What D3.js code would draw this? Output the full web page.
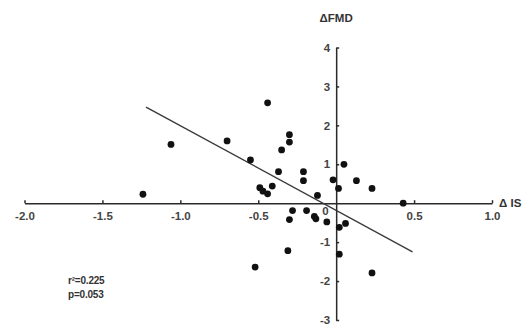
<!DOCTYPE html>
<html>
<head>
<meta charset="utf-8">
<script src="https://cdn.jsdelivr.net/npm/d3@7"></script>
<style>
  body { margin: 0; background: #fff; }
  svg { display: block; font-family: "Liberation Sans", Arial, sans-serif; }
  .axis text { font-size: 11.5px; font-weight: bold; fill: #444; }
  .axis path, .axis line { stroke: #2a2a2a; stroke-width: 1.5; }
</style>
</head>
<body>
<svg id="chart" width="523" height="327"></svg>
<script>
// ΔIS (x) vs ΔFMD (y)
let deltaIS  = [-1.24, -1.06, -0.70, -0.55, -0.44, -0.49, -0.47, -0.44, -0.41, -0.37, -0.35,
                -0.30, -0.30, -0.21, -0.21, -0.12, -0.02, 0.015, 0.05, 0.13, 0.23, 0.43,
                -0.28, -0.19, -0.30, -0.14, -0.13, -0.06, 0.02, 0.06, -0.31, 0.02, -0.52, 0.23],
    deltaFMD = [0.23, 1.51, 1.60, 1.11, 2.58, 0.40, 0.31, 0.24, 0.44, 0.81, 1.37,
                1.76, 1.57, 0.81, 0.58, 0.20, 0.60, 0.38, 1.00, 0.58, 0.38, 0.00,
                -0.19, -0.19, -0.42, -0.34, -0.40, -0.48, -0.62, -0.52, -1.22, -1.31, -1.64, -1.79],
    xTicks   = [-2.0, -1.5, -1.0, -0.5, 0.5, 1.0],
    yTicks   = [-3, -2, -1, 1, 2, 3, 4],
    fitLine  = [[-1.22, 2.47], [0.49, -1.25]],
    stats    = ['r\u00b2=0.225', 'p=0.053'];

let svg = d3.select('#chart'),
    x   = d3.scaleLinear().domain([-2, 1]).range([24.5, 492]),
    y   = d3.scaleLinear().domain([-3, 4]).range([320, 47.5]);

// X axis through y = 0, ticks pointing up
svg.append('g')
    .attr('class', 'axis')
    .attr('transform', 'translate(0,' + y(0) + ')')
    .call(d3.axisBottom(x).tickValues(xTicks).tickSizeInner(-3).tickSizeOuter(0)
      .tickPadding(9).tickFormat(d => d.toFixed(1)));

// Y axis through x = 0, ticks pointing right
svg.append('g')
    .attr('class', 'axis')
    .attr('transform', 'translate(' + x(0) + ',0)')
    .call(d3.axisLeft(y).tickValues(yTicks).tickSizeInner(-3).tickSizeOuter(0)
      .tickPadding(6).tickFormat(d => String(d)));

// Origin label sits just below-left of the crossing
svg.append('text')
    .attr('x', x(0) - 14).attr('y', y(0) + 12)
    .attr('font-size', 11.5).attr('font-weight', 'bold').attr('fill', '#444')
    .text('0');

// Axis titles
svg.append('text')
    .attr('x', x(0)).attr('y', 22)
    .attr('text-anchor', 'middle')
    .attr('font-size', 11.5).attr('font-weight', 'bold').attr('fill', '#333')
    .text('\u0394FMD');

svg.append('text')
    .attr('x', 499).attr('y', y(0) + 4)
    .attr('font-size', 11.5).attr('font-weight', 'bold').attr('fill', '#333')
    .text('\u0394 IS');

// Regression line
svg.append('line')
    .attr('x1', x(fitLine[0][0])).attr('y1', y(fitLine[0][1]))
    .attr('x2', x(fitLine[1][0])).attr('y2', y(fitLine[1][1]))
    .attr('stroke', '#3a3a3a').attr('stroke-width', 1.4);

// Points
svg.append('g').selectAll('circle')
    .data(deltaIS.map((d, i) => [d, deltaFMD[i]]))
    .join('circle')
    .attr('cx', d => x(d[0]))
    .attr('cy', d => y(d[1]))
    .attr('r', 3.4)
    .attr('fill', '#111');

// Stats
svg.append('g').selectAll('text')
    .data(stats)
    .join('text')
    .attr('x', 68).attr('y', (d, i) => 284 + i * 14)
    .attr('font-size', 10).attr('font-weight', 'bold').attr('fill', '#333')
    .attr('letter-spacing', -0.2)
    .text(d => d);
</script>
</body>
</html>
